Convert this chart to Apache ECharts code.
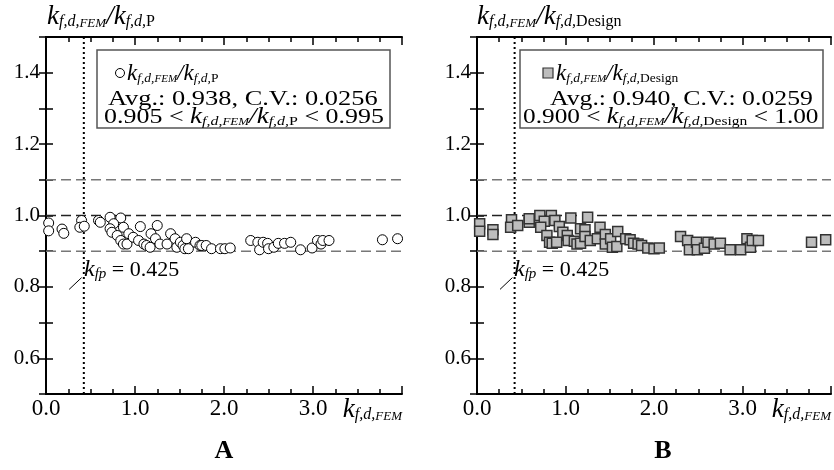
<!DOCTYPE html>
<html><head><meta charset="utf-8">
<script src="https://cdn.jsdelivr.net/npm/echarts@6/dist/echarts.min.js"></script>
<style>html,body{margin:0;padding:0;background:#fff}#c{width:834px;height:470px}</style>
</head><body><div id="c"></div>
<script>
// Panel A: k_f,d,FEM / k_f,d,P
const xP = [0.03,0.03,0.18,0.20,0.40,0.38,0.43,0.59,0.61,0.72,0.84,0.76,0.72,0.87,0.74,0.80,0.84,0.87,0.91,0.93,0.98,1.04,1.06,1.10,1.13,1.17,1.18,1.25,1.23,1.28,1.36,1.40,1.45,1.47,1.51,1.54,1.56,1.58,1.60,1.68,1.73,1.75,1.80,1.86,1.96,2.01,2.07,2.30,2.38,2.40,2.44,2.49,2.50,2.56,2.61,2.68,2.75,2.86,2.99,3.05,3.09,3.11,3.18,3.78,3.95];
const yP = [0.979,0.957,0.962,0.950,0.986,0.967,0.970,0.986,0.981,0.995,0.993,0.977,0.963,0.967,0.953,0.944,0.930,0.920,0.920,0.949,0.939,0.930,0.969,0.920,0.916,0.911,0.949,0.972,0.935,0.920,0.920,0.949,0.935,0.911,0.925,0.916,0.907,0.935,0.907,0.925,0.916,0.916,0.916,0.907,0.907,0.907,0.909,0.930,0.925,0.904,0.925,0.922,0.907,0.911,0.922,0.922,0.925,0.904,0.909,0.930,0.920,0.930,0.930,0.932,0.935];
// Panel B: k_f,d,FEM / k_f,d,Design
const xD = [0.03,0.03,0.18,0.18,0.39,0.38,0.46,0.59,0.59,0.71,0.84,0.76,0.72,0.88,0.93,0.79,0.82,0.85,0.90,1.06,1.25,0.97,1.02,1.03,1.10,1.13,1.17,1.17,1.22,1.22,1.28,1.36,1.39,1.45,1.45,1.51,1.53,1.58,1.59,1.68,1.73,1.77,1.82,1.86,1.93,2.00,2.06,2.30,2.38,2.40,2.48,2.49,2.57,2.61,2.68,2.75,2.86,2.98,3.05,3.09,3.11,3.18,3.78,3.94];
const yD = [0.977,0.956,0.960,0.947,0.988,0.967,0.972,0.981,0.991,1.000,1.000,0.984,0.967,0.986,0.969,0.944,0.925,0.922,0.925,0.993,0.995,0.953,0.944,0.930,0.928,0.920,0.922,0.963,0.960,0.941,0.930,0.935,0.967,0.947,0.920,0.935,0.911,0.913,0.955,0.935,0.932,0.922,0.920,0.916,0.909,0.907,0.909,0.941,0.930,0.904,0.925,0.904,0.908,0.925,0.920,0.922,0.904,0.904,0.935,0.911,0.930,0.930,0.925,0.932];
const xTickLabels = ['0.0','1.0','2.0','3.0'];
const yTickLabels = ['0.6','0.8','1.0','1.2','1.4'];
const refLines = [0.9, 1.0, 1.1];
const kfp = 0.425;
const statsP = {avg:'0.938', cv:'0.0256', lo:'0.905', hi:'0.995'};
const statsD = {avg:'0.940', cv:'0.0259', lo:'0.900', hi:'1.00'};

const FF = 'Liberation Serif';
function mkRich(k, s, sc, n){
  return {
    k:{fontFamily:FF,fontStyle:'italic',fontSize:k,lineHeight:k+1,verticalAlign:'bottom',color:'#000'},
    s:{fontFamily:FF,fontStyle:'italic',fontSize:s,lineHeight:s-2,verticalAlign:'bottom',color:'#000'},
    sc:{fontFamily:FF,fontStyle:'italic',fontSize:sc,lineHeight:sc-1,verticalAlign:'bottom',color:'#000'},
    r:{fontFamily:FF,fontSize:s,lineHeight:s-2,verticalAlign:'bottom',color:'#000'},
    n:{fontFamily:FF,fontSize:n,lineHeight:k+1,verticalAlign:'bottom',color:'#000'}
  };
}
const richT = mkRich(27,16,13,25);
const richL = mkRich(23,13.5,11,22);
const richS = mkRich(24,15,12,22);
const ratio = d => '{k|k}{s|f,d,}{sc|FEM}{k|/k}{s|f,d,}{r|' + d + '}';

const grids = [
  {left:46, top:37, width:356, height:357},
  {left:477, top:37, width:354, height:357}
];
const axLine = {show:true, lineStyle:{color:'#000', width:2}};
function xAx(g, pos){
  return {type:'value', gridIndex:g, position:pos, min:0, max:4, interval:1,
    axisLine:axLine, splitLine:{show:false},
    axisTick:{show:true, inside:true, length:8, lineStyle:{color:'#000',width:1.5}},
    minorTick:{show:true, splitNumber:4, length:5, lineStyle:{color:'#000',width:1.5}},
    axisLabel:{show:pos==='bottom', margin:3, fontFamily:FF, fontSize:23, color:'#000',
      formatter:v=>{const i=Math.round(v); return (Math.abs(v-i)<1e-6 && i<xTickLabels.length)?xTickLabels[i]:'';}}};
}
function yAx(g, pos){
  return {type:'value', gridIndex:g, position:pos, min:0.5, max:1.5, interval:0.1,
    axisLine:axLine, splitLine:{show:false},
    axisTick:{show:true, inside:true, length:7, lineStyle:{color:'#000',width:1.5}},
    axisLabel:{show:pos==='left', margin:6, fontFamily:FF, fontSize:21, color:'#000',
      formatter:v=>{const t=v.toFixed(1); return yTickLabels.indexOf(t)>=0?t:'';}}};
}
function refSeries(xi, yi){
  const out = [];
  refLines.forEach(v=>{
    out.push({type:'line', xAxisIndex:xi, yAxisIndex:yi, data:[[0,v],[4,v]], symbol:'none', silent:true,
      lineStyle:{color: v===1.0?'#222':'#777', width:1.5, type:[10,5]}, z:1});
  });
  out.push({type:'line', xAxisIndex:xi, yAxisIndex:yi, data:[[kfp,0.5],[kfp,1.5]], symbol:'none', silent:true,
    lineStyle:{color:'#000', width:2, type:[2,3]}, z:1});
  out.push({type:'line', xAxisIndex:xi, yAxisIndex:yi, data:[[0.26,0.793],[0.40,0.826]], symbol:'none', silent:true,
    lineStyle:{color:'#000', width:1}, z:1});
  return out;
}
const series = [
  ...refSeries(0,0), ...refSeries(2,2),
  {type:'scatter', xAxisIndex:0, yAxisIndex:0, data:xP.map((x,i)=>[x,yP[i]]), symbol:'circle', symbolSize:10,
    itemStyle:{color:'#fff', borderColor:'#000', borderWidth:1, opacity:1}, z:5},
  {type:'scatter', xAxisIndex:2, yAxisIndex:2, data:xD.map((x,i)=>[x,yD[i]]), symbol:'rect', symbolSize:10,
    itemStyle:{color:'#bdbdbd', borderColor:'#333', borderWidth:1.5, opacity:1}, z:5}
];

function txt(x, y, text, r, align, sx){
  return {type:'text', x:x, y:y, z:20, scaleX:sx||1, style:{text:text, rich:r, align:align||'left', verticalAlign:'middle',
    fontFamily:FF, fontSize:22, fill:'#000'}};
}
function panelGraphics(p){
  const els = [
    {type:'rect', shape:{x:p.bx, y:50, width:p.bw, height:78}, style:{fill:'#fff', stroke:'#555', lineWidth:1.5}, z:15},
    txt(p.gl, 16, ratio(p.name), richT),
    txt(p.right, 409, '{k|k}{s|f,d,}{sc|FEM}', richT, 'right'),
    txt(p.gl+37, 269, '{k|k}{s|fp}{n| = 0.425}', richS),
    txt(p.t1, 73, ratio(p.name), richL),
    txt(p.t2, 98, '{n|Avg.: ' + p.stats.avg + ', C.V.: ' + p.stats.cv + '}', richL, 'left', p.s2),
    txt(p.t3, 116, '{n|' + p.stats.lo + ' < }' + ratio(p.name) + '{n| < ' + p.stats.hi + '}', richL, 'left', p.s3)
  ];
  if (p.sym==='circle') els.push({type:'circle', shape:{cx:p.symX, cy:73, r:4.5}, style:{fill:'#fff', stroke:'#000', lineWidth:1}, z:20});
  else els.push({type:'rect', shape:{x:p.symX-5, y:68, width:10, height:10}, style:{fill:'#bdbdbd', stroke:'#333', lineWidth:1.2}, z:20});
  return els;
}
const graphics = [
  ...panelGraphics({bx:97, bw:293, gl:47, right:402, name:'P', stats:statsP, sym:'circle', symX:120, t1:127, t2:108, t3:104, s2:1.2, s3:1.18}),
  ...panelGraphics({bx:520, bw:303, gl:477, right:831, name:'Design', stats:statsD, sym:'rect', symX:548, t1:556, t2:550, t3:523, s2:1.17, s3:1.15}),
  {type:'text', x:224, y:451, z:20, style:{text:'A', fontFamily:FF, fontWeight:'bold', fontSize:26, fill:'#000', align:'center', verticalAlign:'middle'}},
  {type:'text', x:663, y:451, z:20, style:{text:'B', fontFamily:FF, fontWeight:'bold', fontSize:26, fill:'#000', align:'center', verticalAlign:'middle'}}
];

const chart = echarts.init(document.getElementById('c'), null, {renderer:'canvas'});
chart.setOption({
  animation:false,
  backgroundColor:'#fff',
  grid:grids,
  xAxis:[xAx(0,'bottom'), xAx(0,'top'), xAx(1,'bottom'), xAx(1,'top')],
  yAxis:[yAx(0,'left'), yAx(0,'right'), yAx(1,'left'), yAx(1,'right')],
  series:series,
  graphic:graphics
});
</script></body></html>
